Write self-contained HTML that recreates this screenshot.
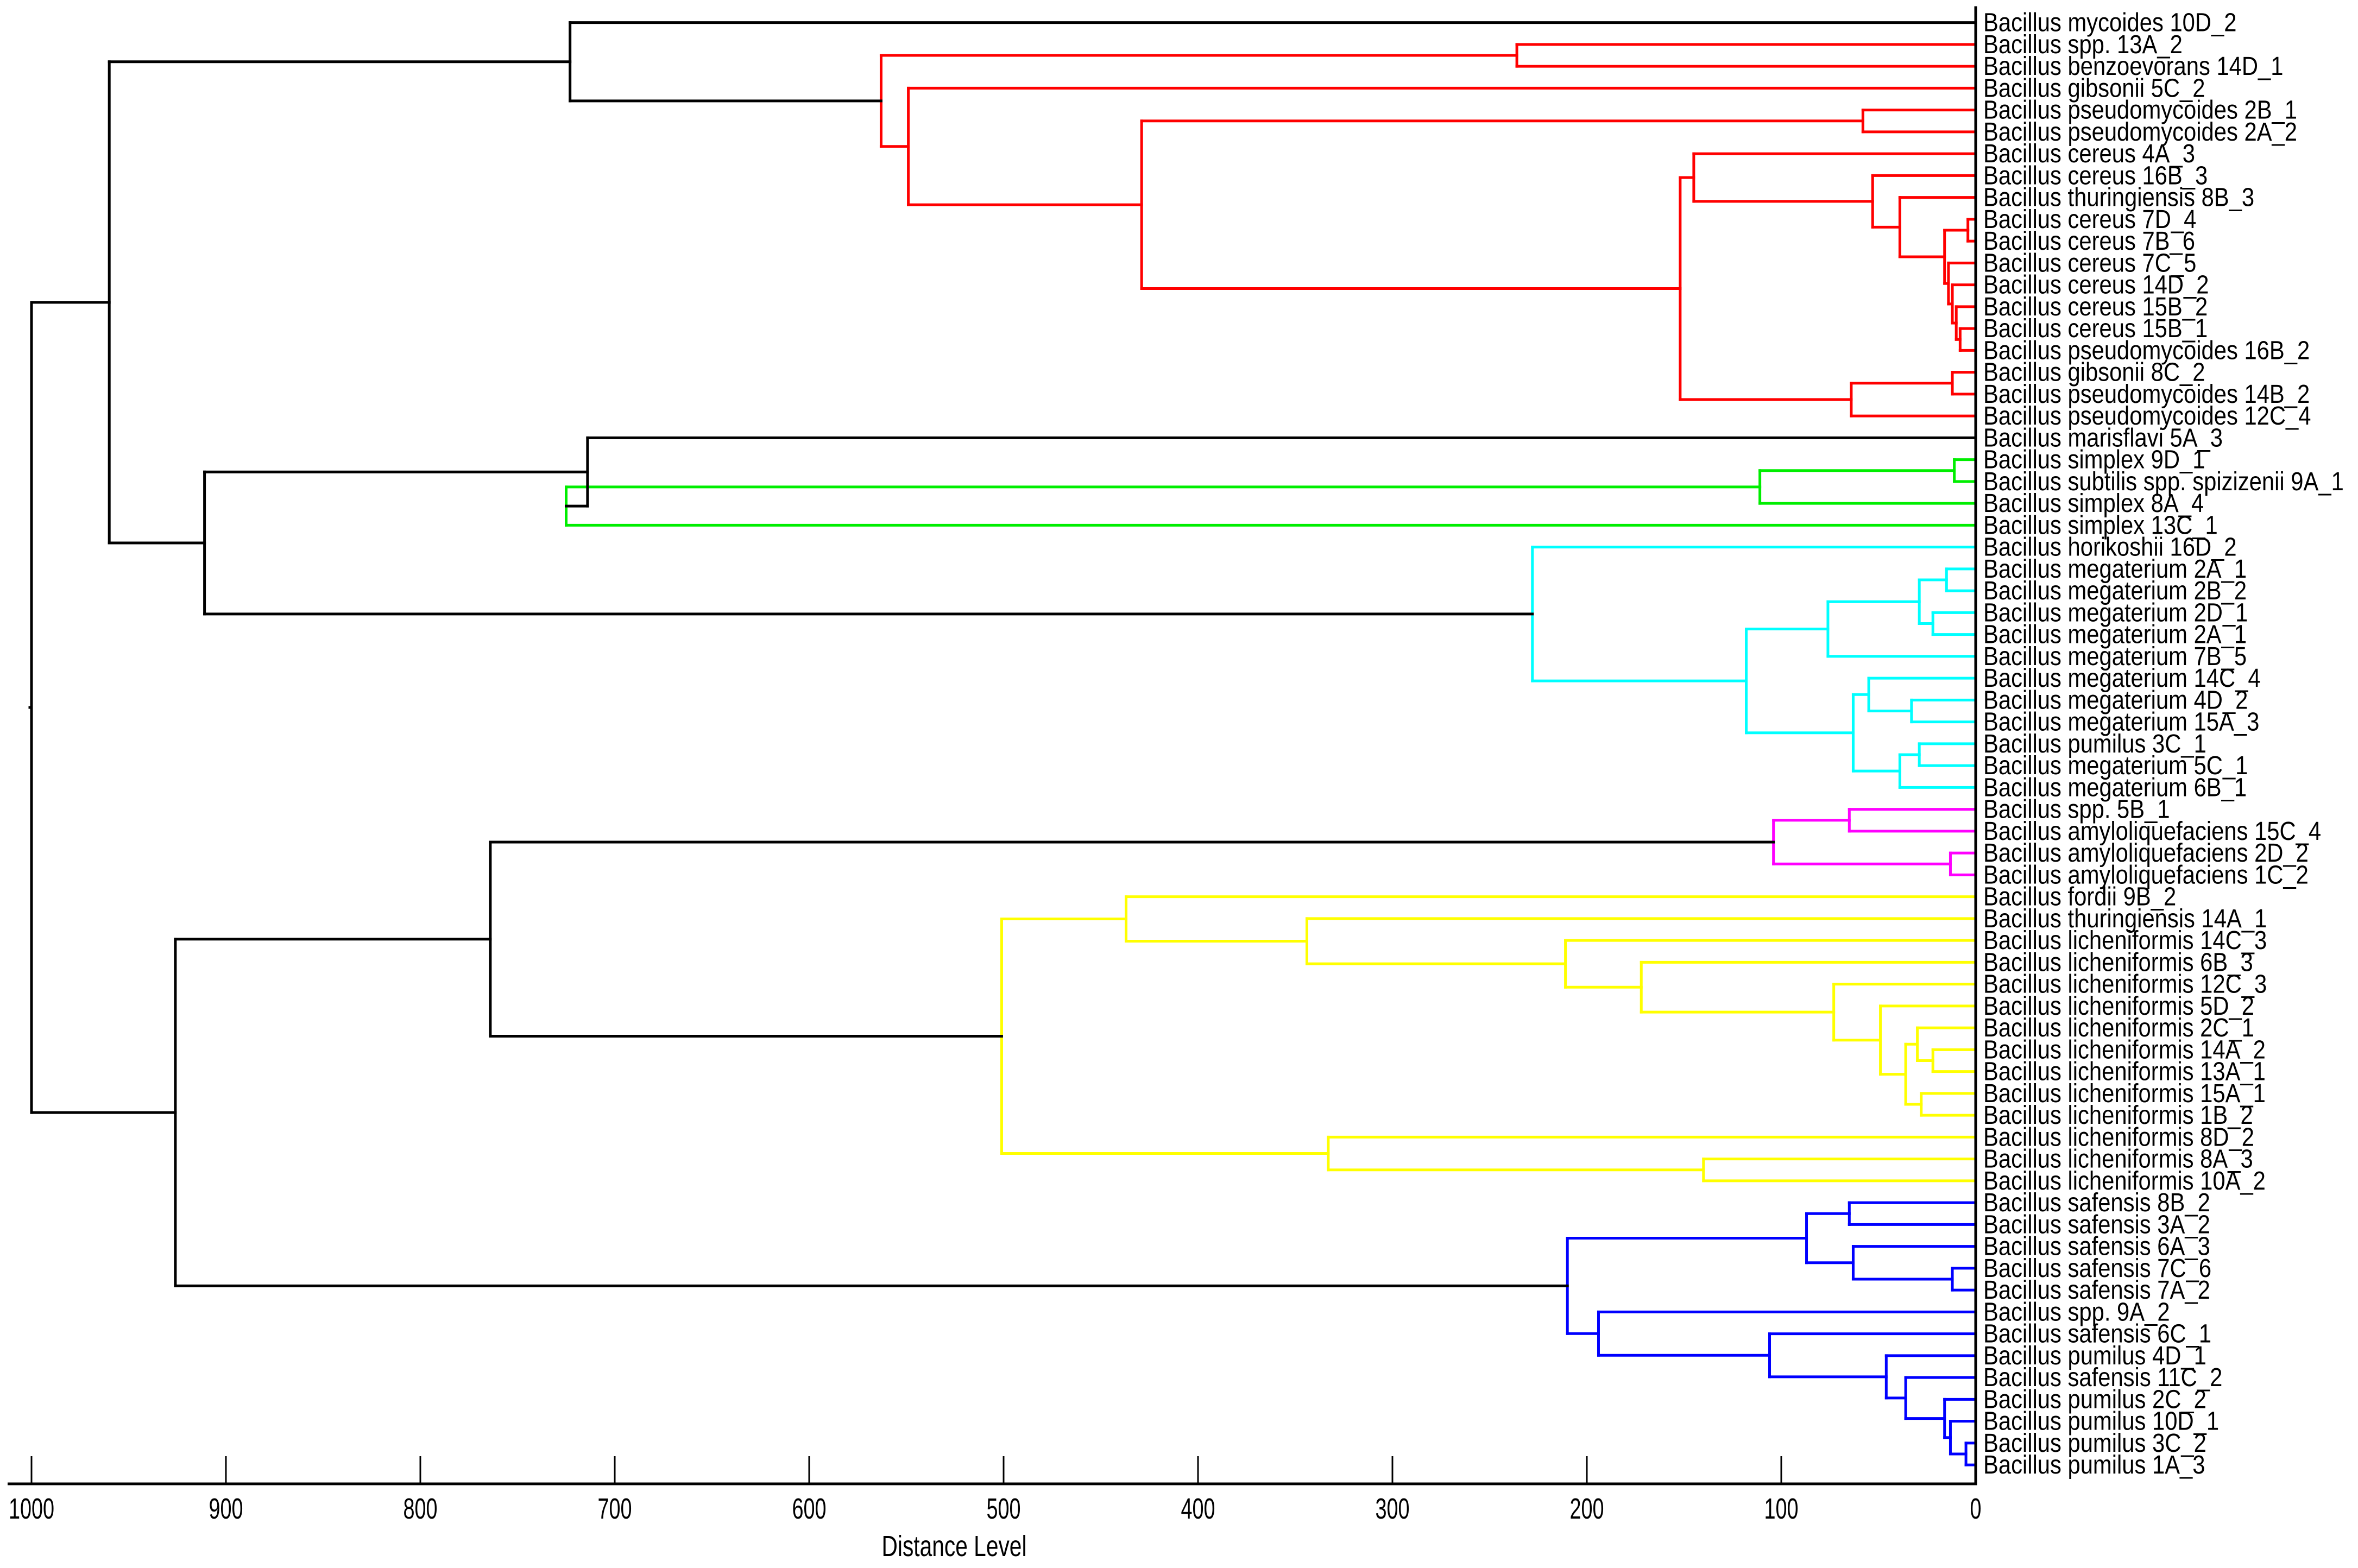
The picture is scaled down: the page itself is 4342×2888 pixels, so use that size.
<!DOCTYPE html>
<html><head><meta charset="utf-8"><style>
html,body{margin:0;padding:0;background:#fff;}
svg{display:block;}
text{font-family:"Liberation Sans",sans-serif;fill:#000;}
</style></head><body>
<svg id="chart" width="4342" height="2888" viewBox="0 0 4342 2888" xmlns="http://www.w3.org/2000/svg">
<g id="branches"></g>
<g id="labels"></g>
<g id="axis"></g>
</svg>
<script>
const leafLabels = [
"Bacillus mycoides 10D_2","Bacillus spp. 13A_2","Bacillus benzoevorans 14D_1","Bacillus gibsonii 5C_2",
"Bacillus pseudomycoides 2B_1","Bacillus pseudomycoides 2A_2","Bacillus cereus 4A_3","Bacillus cereus 16B_3",
"Bacillus thuringiensis 8B_3","Bacillus cereus 7D_4","Bacillus cereus 7B_6","Bacillus cereus 7C_5",
"Bacillus cereus 14D_2","Bacillus cereus 15B_2","Bacillus cereus 15B_1","Bacillus pseudomycoides 16B_2",
"Bacillus gibsonii 8C_2","Bacillus pseudomycoides 14B_2","Bacillus pseudomycoides 12C_4","Bacillus marisflavi 5A_3",
"Bacillus simplex 9D_1","Bacillus subtilis spp. spizizenii 9A_1","Bacillus simplex 8A_4","Bacillus simplex 13C_1",
"Bacillus horikoshii 16D_2","Bacillus megaterium 2A_1","Bacillus megaterium 2B_2","Bacillus megaterium 2D_1",
"Bacillus megaterium 2A_1","Bacillus megaterium 7B_5","Bacillus megaterium 14C_4","Bacillus megaterium 4D_2",
"Bacillus megaterium 15A_3","Bacillus pumilus 3C_1","Bacillus megaterium 5C_1","Bacillus megaterium 6B_1",
"Bacillus spp. 5B_1","Bacillus amyloliquefaciens 15C_4","Bacillus amyloliquefaciens 2D_2","Bacillus amyloliquefaciens 1C_2",
"Bacillus fordii 9B_2","Bacillus thuringiensis 14A_1","Bacillus licheniformis 14C_3","Bacillus licheniformis 6B_3",
"Bacillus licheniformis 12C_3","Bacillus licheniformis 5D_2","Bacillus licheniformis 2C_1","Bacillus licheniformis 14A_2",
"Bacillus licheniformis 13A_1","Bacillus licheniformis 15A_1","Bacillus licheniformis 1B_2","Bacillus licheniformis 8D_2",
"Bacillus licheniformis 8A_3","Bacillus licheniformis 10A_2","Bacillus safensis 8B_2","Bacillus safensis 3A_2",
"Bacillus safensis 6A_3","Bacillus safensis 7C_6","Bacillus safensis 7A_2","Bacillus spp. 9A_2",
"Bacillus safensis 6C_1","Bacillus pumilus 4D_1","Bacillus safensis 11C_2","Bacillus pumilus 2C_2",
"Bacillus pumilus 10D_1","Bacillus pumilus 3C_2","Bacillus pumilus 1A_3"];
// tree nodes: [mergeHeight, left, right, optionalColor]; leaves are 1-based indices
const redCluster = [563,[236,2,3],[549,4,[429,[58,5,6],[152,[145,7,[53,8,[39,9,[16,[4,10,11],[14,12,[12,13,[10,14,[8,15,16]]]]]]]],[64,[12,17,18],19]]]],"#ff0000"];
const greenCluster = [725,[111,[11,21,22],23],24,"#00ee00"];
const cyanCluster = [228,25,[118,[76,[29,[15,26,27],[22,28,29]],30],[63,[55,31,[33,32,33]],[39,[29,34,35],36]]],"#00ffff"];
const magentaCluster = [104,[65,37,38],[13,39,40],"#ff00ff"];
const yellowCluster = [501,[437,41,[344,42,[211,43,[172,44,[73,45,[49,46,[36,[30,47,[22,48,49]],[28,50,51]]]]]]]],[333,52,[140,53,54]],"#ffff00"];
const blueCluster = [210,[87,[65,55,56],[63,57,[12,58,59]]],[194,60,[106,61,[46,62,[36,63,[16,64,[13,65,[5,66,67]]]]]]],"#0000ff"];
const tree = [1000,[960,[723,1,redCluster],[911,[714,20,greenCluster],cyanCluster]],[926,[764,magentaCluster,yellowCluster],blueCluster]];
const tickValues = [1000,900,800,700,600,500,400,300,200,100,0];

const NS="http://www.w3.org/2000/svg";
const X0=3638, PXU=3.58;
function xs(d){return X0-d*PXU;}
function ys(i){return 41.6+(i-1)*40.25;}
const gB=document.getElementById('branches');
function line(x1,y1,x2,y2,col,name){
  const l=document.createElementNS(NS,'line');
  l.setAttribute('x1',x1);l.setAttribute('y1',y1);l.setAttribute('x2',x2);l.setAttribute('y2',y2);
  l.setAttribute('stroke',col);l.setAttribute('stroke-width',5);l.setAttribute('stroke-linecap','square');
  
  
  gB.appendChild(l);
}
// returns {x,y}
function draw(node,col){
  if(typeof node==='number'){return {x:xs(0),y:ys(node)};}
  const c=node[3]||col;
  const a=draw(node[1],c), b=draw(node[2],c);
  const x=xs(node[0]);
  line(x,a.y,a.x,a.y,c,'branch');
  line(x,b.y,b.x,b.y,c,'branch');
  line(x,a.y,x,b.y,c,'merge-link');
  return {x:x,y:(a.y+b.y)/2};
}
const r=draw(tree,'#000');
line(xs(1000)-3,r.y,xs(1000),r.y,'#000','root-stub');
// right vertical baseline
line(X0,14,X0,2733,'#000','zero-line');

const gL=document.getElementById('labels');
leafLabels.forEach((s,i)=>{
  const t=document.createElementNS(NS,'text');
  t.setAttribute('x',3652);t.setAttribute('y',ys(i+1)+16);
  t.setAttribute('font-size',48);
  t.textContent=s;
  
  
  gL.appendChild(t);
  const w=t.getComputedTextLength();
  t.setAttribute('textLength',(w*0.87).toFixed(1));
  t.setAttribute('lengthAdjust','spacingAndGlyphs');
});

const gA=document.getElementById('axis');
function aline(x1,y1,x2,y2,name){
  const l=document.createElementNS(NS,'line');
  l.setAttribute('x1',x1);l.setAttribute('y1',y1);l.setAttribute('x2',x2);l.setAttribute('y2',y2);
  l.setAttribute('stroke','#000');l.setAttribute('stroke-width',name==='axis-line'?5:3);
  
  
  gA.appendChild(l);
}
aline(14,2733,X0,2733,'axis-line');
tickValues.forEach(v=>{
  const x=xs(v);
  aline(x,2682,x,2733,'axis-tick');
  const t=document.createElementNS(NS,'text');
  t.setAttribute('x',x);t.setAttribute('y',2797);
  t.setAttribute('font-size',54);t.setAttribute('text-anchor','middle');
  t.textContent=String(v);
  
  
  gA.appendChild(t);
  const w=t.getComputedTextLength();
  t.setAttribute('textLength',(w*0.7).toFixed(1));
  t.setAttribute('lengthAdjust','spacingAndGlyphs');
});
const tt=document.createElementNS(NS,'text');
tt.setAttribute('x',1757);tt.setAttribute('y',2866);
tt.setAttribute('font-size',54);tt.setAttribute('text-anchor','middle');
tt.setAttribute('textLength',267);tt.setAttribute('lengthAdjust','spacingAndGlyphs');
tt.textContent='Distance Level';


gA.appendChild(tt);
</script>
</body></html>
